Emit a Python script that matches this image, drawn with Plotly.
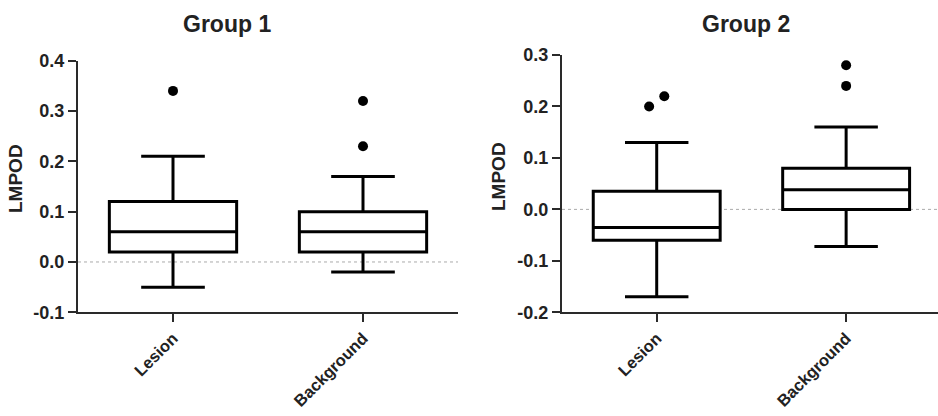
import plotly.graph_objects as go

categories = ["Lesion", "Background"]
titles = ["Group 1", "Group 2"]
y_title = "LMPOD"

# box statistics per group: [Lesion, Background]
g1_low = [-0.05, -0.02]
g1_q1 = [0.02, 0.02]
g1_med = [0.06, 0.06]
g1_q3 = [0.12, 0.10]
g1_high = [0.21, 0.17]
g1_out_cat = [0, 1, 1]
g1_out_val = [0.34, 0.23, 0.32]
g1_out_jit = [0.0, 0.0, 0.0]

g2_low = [-0.17, -0.072]
g2_q1 = [-0.06, 0.0]
g2_med = [-0.035, 0.038]
g2_q3 = [0.035, 0.08]
g2_high = [0.13, 0.16]
g2_out_cat = [0, 0, 1, 1]
g2_out_val = [0.20, 0.22, 0.24, 0.28]
g2_out_jit = [-0.04, 0.04, 0.0, 0.0]

g1_ticks = [-0.1, 0.0, 0.1, 0.2, 0.3, 0.4]
g1_ticktext = ["-0.1", "0.0", "0.1", "0.2", "0.3", "0.4"]
g2_ticks = [-0.2, -0.1, 0.0, 0.1, 0.2, 0.3]
g2_ticktext = ["-0.2", "-0.1", "0.0", "0.1", "0.2", "0.3"]

FONT = "Liberation Sans, Arial, sans-serif"
INK = "#222"
W, H = 938, 416

fig = go.Figure()

groups = [
    (g1_low, g1_q1, g1_med, g1_q3, g1_high, g1_out_cat, g1_out_val, g1_out_jit, "x", "y"),
    (g2_low, g2_q1, g2_med, g2_q3, g2_high, g2_out_cat, g2_out_val, g2_out_jit, "x2", "y2"),
]

for low, q1, med, q3, high, oc, ov, oj, xa, ya in groups:
    fig.add_trace(go.Box(
        x=list(range(len(categories))), q1=q1, median=med, q3=q3,
        lowerfence=low, upperfence=high,
        boxpoints=False, width=0.67, whiskerwidth=0.5,
        fillcolor="white", line=dict(color="black", width=3),
        xaxis=xa, yaxis=ya, showlegend=False, hoverinfo="skip",
    ))
    fig.add_trace(go.Scatter(
        x=[c + j for c, j in zip(oc, oj)], y=ov, mode="markers",
        marker=dict(color="black", size=10),
        xaxis=xa, yaxis=ya, showlegend=False, hoverinfo="skip",
    ))

x1_dom = [78 / W, 458 / W]
x2_dom = [562 / W, 1.0]
y1_dom = [(H - 312.3) / H, (H - 60.7) / H]
y2_dom = [(H - 312.3) / H, (H - 55) / H]

ytickfont = dict(family=FONT, size=18, color=INK, weight="bold")
xtickfont = dict(family=FONT, size=16.5, color=INK, weight="bold")
axis_common = dict(showgrid=False, zeroline=False, showline=True, automargin=False,
                   linecolor="#2a2a2a", linewidth=2, ticks="outside",
                   ticklen=8, tickwidth=2, tickcolor="#2a2a2a")

fig.update_layout(
    width=W, height=H, margin=dict(l=0, r=0, t=0, b=0, autoexpand=False),
    paper_bgcolor="white", plot_bgcolor="white",
    xaxis=dict(domain=x1_dom, range=[-0.5, 1.5], anchor="y", tickfont=xtickfont,
               tickvals=[0, 1], ticktext=categories, tickangle=-45, **axis_common),
    yaxis=dict(domain=y1_dom, range=[-0.1, 0.4], anchor="x", tickfont=ytickfont,
               tickvals=g1_ticks, ticktext=g1_ticktext, **axis_common),
    xaxis2=dict(domain=x2_dom, range=[-0.5, 1.485], anchor="y2", tickfont=xtickfont,
                tickvals=[0, 1], ticktext=categories, tickangle=-45, **axis_common),
    yaxis2=dict(domain=y2_dom, range=[-0.2, 0.3], anchor="x2", tickfont=ytickfont,
                tickvals=g2_ticks, ticktext=g2_ticktext, **axis_common),
)

# dotted zero reference lines
for xa, ya in [("x", "y"), ("x2", "y2")]:
    fig.add_shape(type="line", xref=f"{xa} domain", yref=ya, x0=0, x1=1, y0=0, y1=0,
                  line=dict(color="#aaa", width=1, dash="dot"), layer="below")

# titles
for t, cx, ty in [(titles[0], 227, 24), (titles[1], 746, 24)]:
    fig.add_annotation(text=t, xref="paper", yref="paper", x=cx / W, y=(H - ty) / H,
                       showarrow=False, xanchor="center", yanchor="middle",
                       font=dict(family=FONT, size=23, color=INK, weight="bold"))

# y-axis titles
for cx, cy in [(15, 179), (498, 176)]:
    fig.add_annotation(text=y_title, xref="paper", yref="paper", x=cx / W, y=(H - cy) / H,
                       showarrow=False, xanchor="center", yanchor="middle", textangle=-90,
                       font=dict(family=FONT, size=19, color=INK, weight="bold"))

fig.write_html("out.html")
